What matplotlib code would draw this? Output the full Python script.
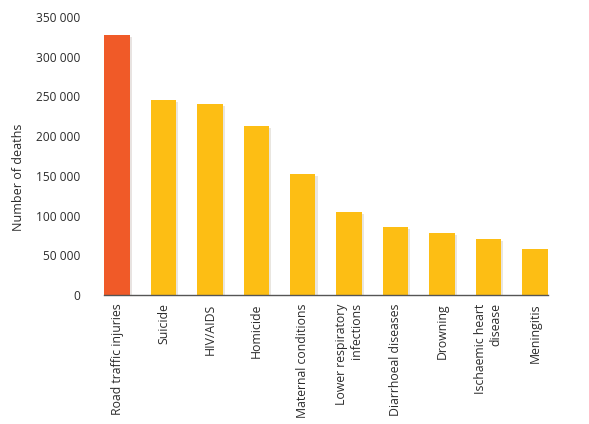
import matplotlib.pyplot as plt
import matplotlib.patheffects as pe
from matplotlib.ticker import FuncFormatter

plt.rcParams['font.family'] = ['Open Sans', 'DejaVu Sans']

# Leading causes of death, ages 15-29
causes = ["Road traffic injuries", "Suicide", "HIV/AIDS", "Homicide",
          "Maternal conditions", "Lower respiratory\ninfections",
          "Diarrhoeal diseases", "Drowning", "Ischaemic heart\ndisease",
          "Meningitis"]
deaths = [327000, 245000, 240500, 213000, 152000, 104000,
          86000, 78000, 70500, 58000]
colors = ["#F05A28"] + ["#FDBE14"] * 9

fig = plt.figure(figsize=(5.89, 4.24), dpi=100)
ax = fig.add_axes([0.1766, 0.3042, 0.7534, 0.6558])

x = range(len(causes))
bars = ax.bar(x, deaths, width=0.55, color=colors, zorder=2)
for b in bars:
    b.set_path_effects([pe.SimplePatchShadow(offset=(1.5, -1.5), alpha=0.12),
                        pe.Normal()])

ax.set_xlim(-0.28, 9.28)
ax.set_ylim(0, 350000)
ax.set_yticks(range(0, 350001, 50000))
ax.yaxis.set_major_formatter(FuncFormatter(lambda v, p: f"{int(v):,}".replace(",", " ")))
ax.set_xticks(list(x))
ax.set_xticklabels(causes, rotation=90, ha='center', va='top',
                   multialignment='right', fontsize=8.8, color="#2b2b2b")
ax.tick_params(axis='both', length=0)
ax.tick_params(axis='y', labelsize=8.6, labelcolor="#2b2b2b", pad=17)
ax.tick_params(axis='x', pad=6)

for s in ['top', 'right', 'left']:
    ax.spines[s].set_visible(False)
ax.spines['bottom'].set_color("#555555")
ax.spines['bottom'].set_linewidth(1.0)

ax.set_ylabel("Number of deaths", fontsize=9, color="#2b2b2b")
ax.yaxis.set_label_coords(-0.178, 0.424)

fig.savefig("out.png", dpi=100)
